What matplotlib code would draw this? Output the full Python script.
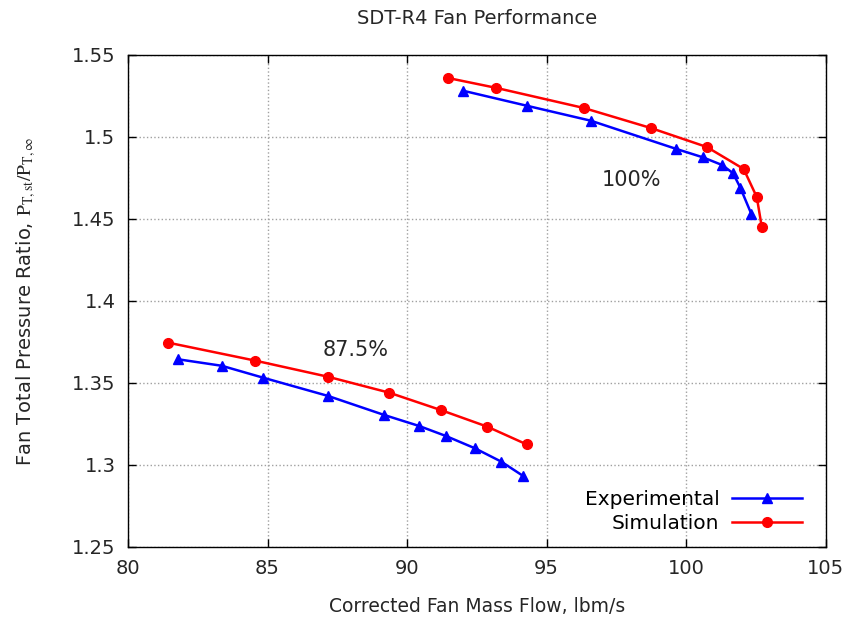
import matplotlib
matplotlib.use("Agg")
import matplotlib.pyplot as plt
import numpy as np

# 100% speed line
exp100_flow = [92.01, 94.28, 96.59, 99.65, 100.60, 101.29, 101.68, 101.94, 102.34]
exp100_pr = [1.5282, 1.5191, 1.5099, 1.4927, 1.4876, 1.4829, 1.4779, 1.4691, 1.4529]
sim100_flow = [91.46, 93.18, 96.33, 98.73, 100.74, 102.06, 102.53, 102.71]
sim100_pr = [1.536, 1.530, 1.5177, 1.5055, 1.4939, 1.4805, 1.4634, 1.4451]

# 87.5% speed line
exp875_flow = [81.78, 83.36, 84.85, 87.17, 89.18, 90.43, 91.39, 92.43, 93.38, 94.16]
exp875_pr = [1.3645, 1.3605, 1.3532, 1.3421, 1.3305, 1.3238, 1.3177, 1.3102, 1.3020, 1.2933]
sim875_flow = [81.44, 84.57, 87.17, 89.36, 91.21, 92.87, 94.28]
sim875_pr = [1.3746, 1.3636, 1.3538, 1.3441, 1.3335, 1.3234, 1.3126]

xticks = [80, 85, 90, 95, 100, 105]
yticks = [1.25, 1.3, 1.35, 1.4, 1.45, 1.5, 1.55]
ytick_labels = ['1.25', '1.3', '1.35', '1.4', '1.45', '1.5', '1.55']

plt.rcParams['font.family'] = ['DejaVu Sans']
plt.rcParams['mathtext.fontset'] = 'stix'

fig = plt.figure(figsize=(8.53, 6.27), dpi=100)
ax = fig.add_axes((0.150, 0.1276, 0.818, 0.7847))

blue = '#0000ff'
red = '#ff0000'
txt = '#262626'

ax.plot(exp100_flow, exp100_pr, color=blue, lw=1.8, marker='^', ms=7, label='Experimental')
ax.plot(sim100_flow, sim100_pr, color=red, lw=1.8, marker='o', ms=7, label='Simulation')
ax.plot(exp875_flow, exp875_pr, color=blue, lw=1.8, marker='^', ms=7)
ax.plot(sim875_flow, sim875_pr, color=red, lw=1.8, marker='o', ms=7)

ax.text(98.05, 1.4738, '100%', fontsize=15, color=txt, ha='center', va='center')
ax.text(88.17, 1.3701, '87.5%', fontsize=15, color=txt, ha='center', va='center')

ax.set_xlim(80, 105)
ax.set_ylim(1.25, 1.55)
ax.set_xticks(xticks)
ax.set_yticks(yticks)
ax.set_xticklabels([str(t) for t in xticks])
ax.set_yticklabels(ytick_labels)
ax.tick_params(direction='in', length=6, width=1, top=True, right=True,
               labelsize=14, pad=9, colors='#000000', labelcolor=txt)
ax.grid(True, color='#a0a0a0', linestyle=':', linewidth=1)
for s in ax.spines.values():
    s.set_linewidth(1)

ax.set_xlabel('Corrected Fan Mass Flow, lbm/s', fontsize=13.5, color=txt, labelpad=13)
ax.set_ylabel(r'Fan Total Pressure Ratio, $\mathrm{P_{T,st}/P_{T,\infty}}$', fontsize=14,
              color=txt, labelpad=24)
ax.set_title('SDT-R4 Fan Performance', fontsize=14, color=txt, pad=22)

ax.legend(loc='lower right', bbox_to_anchor=(0.995, -0.012), frameon=False,
          markerfirst=False, fontsize=14.5, handlelength=3.5, labelspacing=0.25,
          borderaxespad=0.6, handletextpad=0.6)

fig.savefig('out.png', dpi=100)
